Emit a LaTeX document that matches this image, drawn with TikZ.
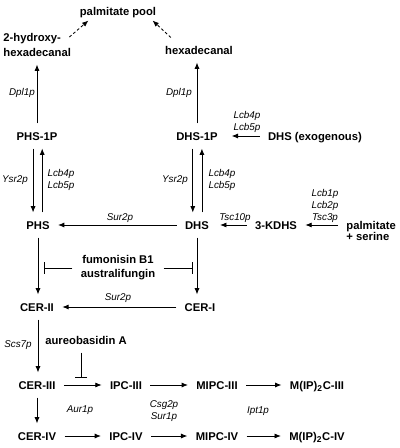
\documentclass[tikz,border=0pt]{standalone}
\usepackage{fontspec}
\setmainfont{Liberation Sans}
\usepackage{tikz}
\usetikzlibrary{arrows.meta}
\usetikzlibrary{positioning}
\tikzset{
  cpdbase/.style = {font=\fontsize{8}{10}\selectfont\bfseries, inner sep=6pt,
    outer sep=0pt, align=left},% compound, several lines
  cpd/.style = {cpdbase, text height=5.8pt, text depth=0pt},% compound
  enz/.style = {font=\fontsize{7}{8.8}\selectfont\itshape, inner sep=1pt,
    align=center},% enzyme
  conv/.style = {-{Latex[length=4.5pt,width=3.6pt]}, line width=0.6pt},% conversion
  inhib/.style = {-{Bar[width=8.5pt]}, line width=0.6pt},% inhibition
  leak/.style = {conv, dash pattern=on 2pt off 1.6pt}% degradation
}

\begin{document}
\begin{tikzpicture}[x=0.025cm,y=-0.025cm]
\useasboundingbox (0,0) rectangle (400,448);

% compounds
\node [cpd] (pool) at (118,11) {palmitate pool};
\node [cpdbase, anchor=west] (hydroxy) at (-5,45) {2-hydroxy-\\hexadecanal};
\node [cpd] (hexa) at (199,50) {hexadecanal};
\node [cpd] (phs1p) at (37,136) {PHS-1P};
\node [cpd] (dhs1p) at (197,136) {DHS-1P};
\node [cpd] (dhsx) at (315,136) {DHS (exogenous)};
\node [cpd] (phs) at (38,225) {PHS};
\node [cpd] (dhs) at (197,225) {DHS};
\node [cpd] (kdhs) at (276,225) {3-KDHS};
\node [cpd, anchor=west] (pal) at (338,225) {palmitate};
\node [cpd, anchor=west] (ser) at (338,236) {+ serine};
\node [cpdbase, align=center] (fum) at (118,268) {fumonisin B1\\australifungin};
\node [cpd] (cer2) at (37,307) {CER-II};
\node [cpd] (cer1) at (200,307) {CER-I};
\node [cpd] (aureo) at (86,340) {aureobasidin A};
\node [cpd] (cer3) at (37,385) {CER-III};
\node [cpd] (ipc3) at (126,385) {IPC-III};
\node [cpd] (mipc3) at (217,385) {MIPC-III};
\node [cpd] (mip2c3) at (317,385) {M(IP)\textsubscript{2}C-III};
\node [cpd] (cer4) at (37,436) {CER-IV};
\node [cpd] (ipc4) at (126,436) {IPC-IV};
\node [cpd] (mipc4) at (217,436) {MIPC-IV};
\node [cpd] (mip2c4) at (317,436) {M(IP)\textsubscript{2}C-IV};

% enzymes
\node [enz] (dpl1) at (22,93) {Dpl1p};
\node [enz] (dpl2) at (179,93) {Dpl1p};
\node [enz] (lcbx) at (247,122) {Lcb4p\\Lcb5p};
\node [enz] (ysr1) at (15,180) {Ysr2p};
\node [enz] (lcb1) at (61,180) {Lcb4p\\Lcb5p};
\node [enz] (ysr2) at (175,180) {Ysr2p};
\node [enz] (lcb2) at (222,180) {Lcb4p\\Lcb5p};
\node [enz] (spt) at (325,206) {Lcb1p\\Lcb2p\\Tsc3p};
\node [enz] (sur1) at (120,218) {Sur2p};
\node [enz] (tsc10) at (235,218) {Tsc10p};
\node [enz] (sur2) at (118,298) {Sur2p};
\node [enz] (scs7) at (18,345) {Scs7p};
\node [enz] (aur1) at (80,410) {Aur1p};
\node [enz] (csg2) at (164,411) {Csg2p\\Sur1p};
\node [enz] (ipt1) at (258,411) {Ipt1p};

% degradation
\draw [leak] ([shift={(-10,-8)}]hydroxy.east) -- ([shift={(17,-3)}]pool.south west);
\draw [leak] ([xshift=10pt]hexa.north west) -- ([shift={(-12,-3)}]pool.south east);
\draw [conv] (phs1p.north) -- (phs1p.north |- hydroxy.south);
\draw [conv] (dhs1p.north) -- (dhs1p.north |- hexa.south);

% long chain bases
\draw [conv, shorten >=4pt] (dhsx) -- (dhs1p);
\draw [conv] ([xshift=-3.5pt]phs.north |- phs1p.south) -- ([xshift=-3.5pt]phs.north);
\draw [conv] ([xshift=3pt]phs.north) -- ([xshift=3pt]phs.north |- phs1p.south);
\draw [conv] ([xshift=-3pt]dhs.north |- dhs1p.south) -- ([xshift=-3pt]dhs.north);
\draw [conv] ([xshift=3.5pt]dhs.north) -- ([xshift=3.5pt]dhs.north |- dhs1p.south);
\draw [conv] (pal) -- (kdhs);
\draw [conv, shorten >=2pt] (kdhs) -- (dhs);
\draw [conv] (dhs) -- (phs);

% ceramides
\draw [conv] (phs.south) -- (phs.south |- cer2.north);
\draw [conv] (dhs.south) -- (dhs.south |- cer1.north);
\draw [inhib] (fum.west) -- ([xshift=4.3pt]phs.center |- fum.west);
\draw [inhib] (fum.east) -- ([xshift=-3pt]dhs.center |- fum.east);
\draw [conv] (cer1) -- (cer2);
\draw [conv] ([xshift=0.7pt]cer2.south) -- ([xshift=0.7pt]cer2.south |- cer3.north);
\draw [conv] (cer3.south) -- (cer3.south |- cer4.north);

% inositol phosphorylceramides
\draw [inhib] ([xshift=-3.5pt]aureo.south) -- ([xshift=-3.5pt,yshift=5pt]aureo.south |- ipc3.center);
\draw [conv] (cer3) -- (ipc3);
\draw [conv] (ipc3) -- (mipc3);
\draw [conv] (mipc3) -- (mip2c3);
\draw [conv] (cer4) -- (ipc4);
\draw [conv] (ipc4) -- (mipc4);
\draw [conv] (mipc4) -- (mip2c4);
\end{tikzpicture}
\end{document}
